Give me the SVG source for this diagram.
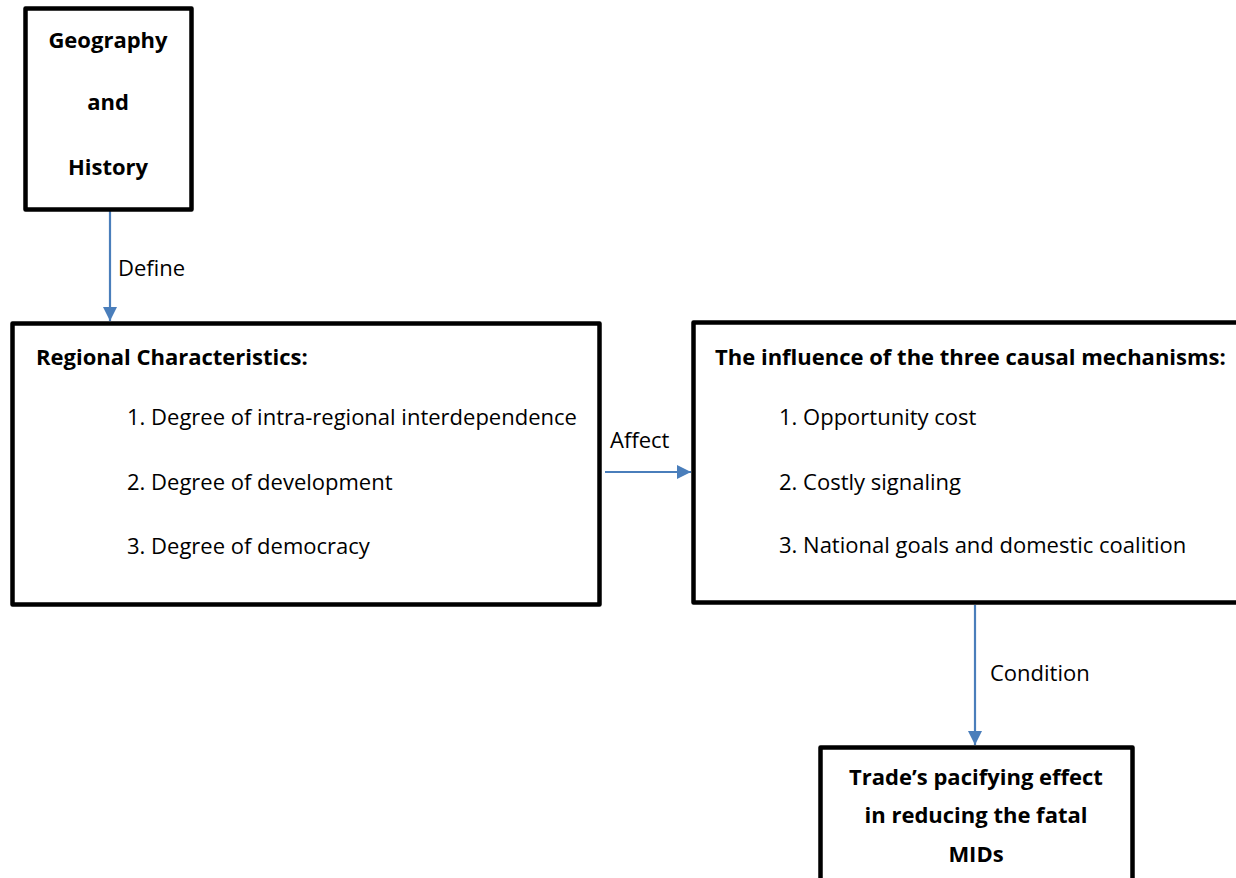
<svg xmlns="http://www.w3.org/2000/svg" width="1236" height="878" viewBox="0 0 1236 878">
  <defs>
    <style>
      .box { fill: #ffffff; stroke: #000000; stroke-width: 4.5; stroke-linejoin: round; }
      .link { stroke: #4a7ebb; stroke-width: 2.2; fill: none; }
      text { font-family: "Open Sans", Lato, sans-serif; font-size: 22px; fill: #000000; }
      .b { font-weight: bold; }
      .c { text-anchor: middle; }
    </style>
    <marker id="arrow" viewBox="0 0 10 10" refX="10" refY="5" markerWidth="6.5" markerHeight="6.5" markerUnits="strokeWidth" orient="auto">
      <path d="M0,0 L10,5 L0,10 Z" fill="#4a7ebb"/>
    </marker>
  </defs>
  <rect width="1236" height="878" fill="#ffffff"/>

  <g id="connectors">
    <line class="link" x1="110" y1="211" x2="110" y2="321" marker-end="url(#arrow)"/>
    <text x="118" y="276">Define</text>
    <line class="link" x1="605" y1="472" x2="691" y2="472" marker-end="url(#arrow)"/>
    <text x="610" y="448">Affect</text>
    <line class="link" x1="975" y1="605" x2="975" y2="745" marker-end="url(#arrow)"/>
    <text x="990" y="681">Condition</text>
  </g>

  <g id="geography-history">
    <rect class="box" x="25.5" y="8.5" width="166" height="201"/>
    <text class="b c" x="108" y="48">Geography</text>
    <text class="b c" x="108" y="110">and</text>
    <text class="b c" x="108" y="175">History</text>
  </g>

  <g id="regional-characteristics">
    <rect class="box" x="12.5" y="323.5" width="587" height="281"/>
    <text class="b" x="36" y="365">Regional Characteristics:</text>
    <text x="127" y="425">1. Degree of intra-regional interdependence</text>
    <text x="127" y="490">2. Degree of development</text>
    <text x="127" y="554">3. Degree of democracy</text>
  </g>

  <g id="causal-mechanisms">
    <rect class="box" x="693.5" y="322.5" width="560" height="280"/>
    <text class="b" x="715" y="365">The influence of the three causal mechanisms:</text>
    <text x="779" y="425">1. Opportunity cost</text>
    <text x="779" y="490">2. Costly signaling</text>
    <text x="779" y="553">3. National goals and domestic coalition</text>
  </g>

  <g id="pacifying-effect">
    <rect class="box" x="820.5" y="747.5" width="312" height="150"/>
    <text class="b c" x="976" y="785">Trade’s pacifying effect</text>
    <text class="b c" x="976" y="823">in reducing the fatal</text>
    <text class="b c" x="976" y="862">MIDs</text>
  </g>
</svg>
